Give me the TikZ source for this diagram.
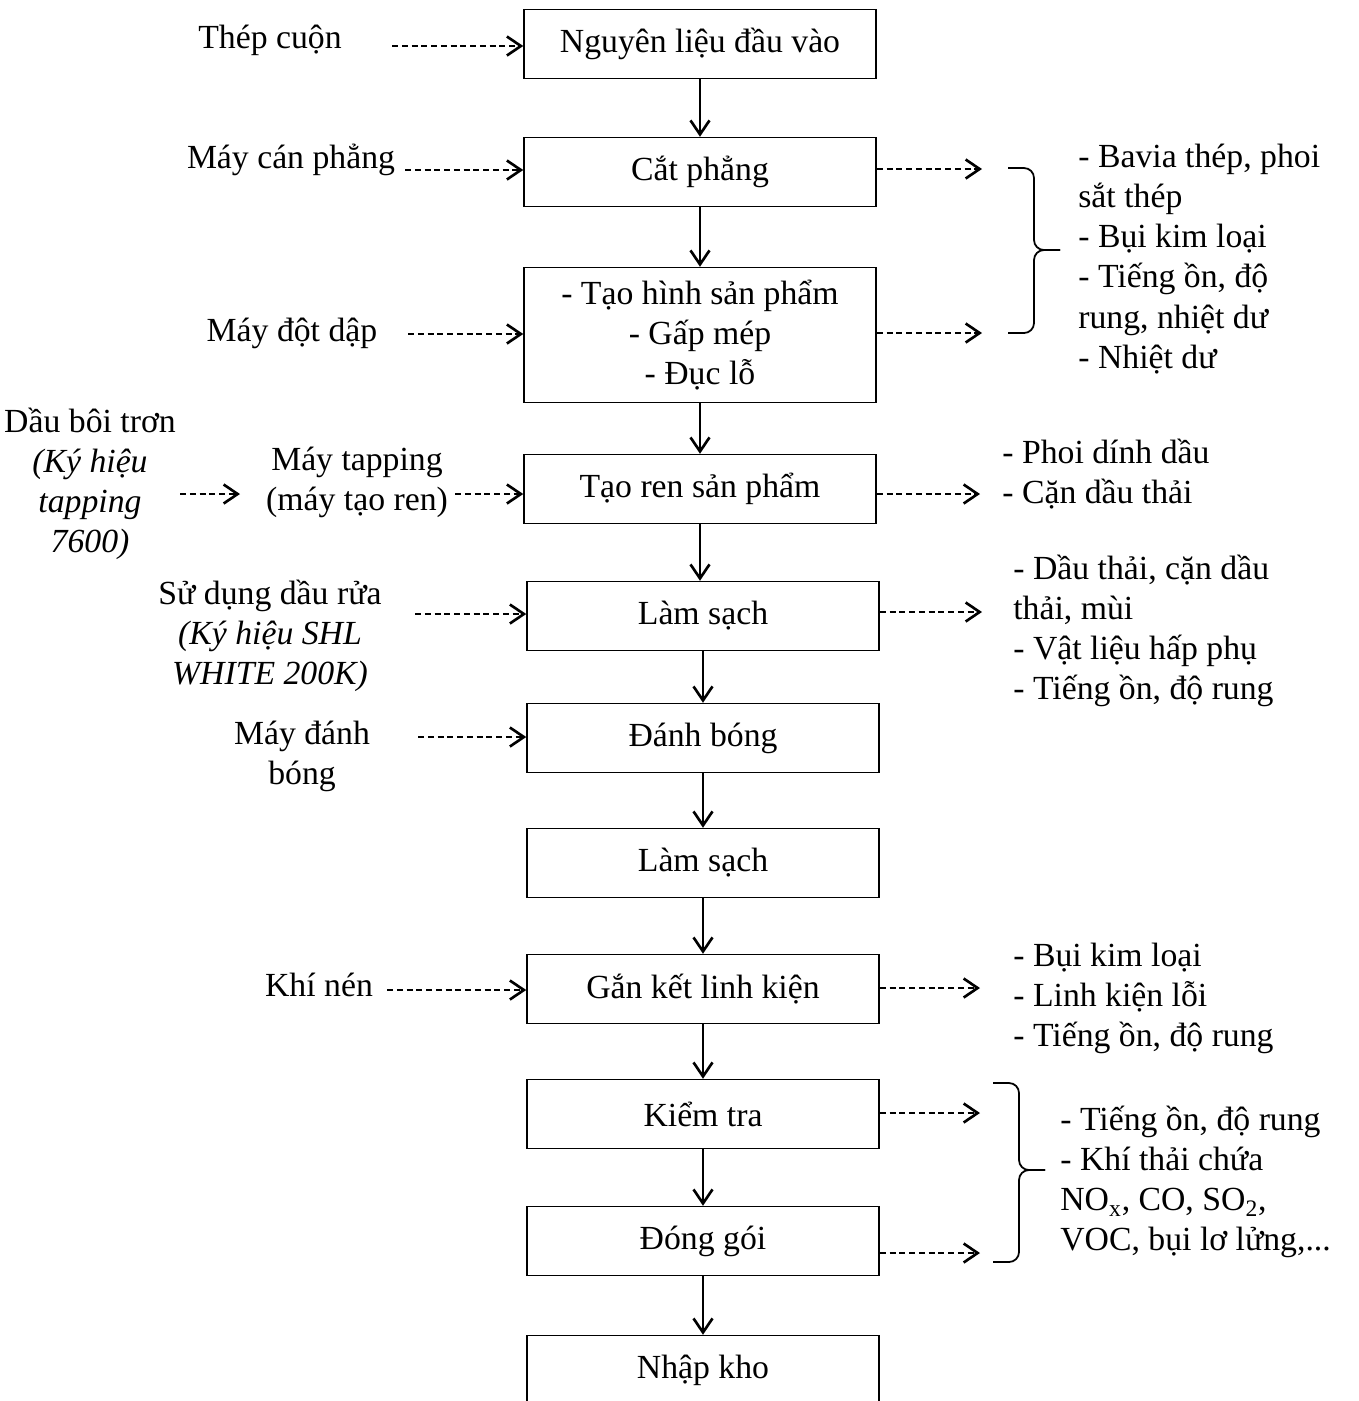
\documentclass[tikz,border=0pt]{standalone}
\usepackage{fontspec}
\setmainfont{Liberation Serif}
\usepackage{tikz}
\usetikzlibrary{arrows.meta,positioning,calc}
\newcommand\diafont{\fontsize{19.2pt}{22.8pt}\selectfont}
\tikzset{
  procbox/.style={rectangle,draw=black,line width=0.85pt,minimum width=70.4mm,
                  minimum height=13.8mm,inner sep=0pt,align=center},
  lbl/.style={align=center,inner sep=0pt},
  rlbl/.style={align=left,anchor=west,inner sep=0pt},
  fl/.style={-{Straight Barb[length=2.8mm,width=3.8mm,line width=1.5pt]},line width=1.5pt},
  dfl/.style={fl,dash pattern=on 1.2mm off 0.75mm},
  brc/.style={line width=1pt,rounded corners=2mm},
}

\begin{document}
\begin{tikzpicture}[x=0.2mm,y=-0.2mm,every node/.style={font=\diafont}]
  \useasboundingbox (0,0) rectangle (1359,1401);
  % main column
  \node[procbox] (nl) at (700,44) {Nguyên liệu đầu vào};
  \node[procbox] (cp) at (700,172) {Cắt phẳng};
  \node[procbox,minimum height=27mm] (th) at (700,335) {- Tạo hình sản phẩm\\- Gấp mép\\- Đục lỗ};
  \node[procbox] (tr) at (700,489) {Tạo ren sản phẩm};
  \node[procbox] (ls1) at (703,616) {Làm sạch};
  \node[procbox] (db) at (703,738) {Đánh bóng};
  \node[procbox] (ls2) at (703,863) {Làm sạch};
  \node[procbox] (gk) at (703,989) {Gắn kết linh kiện};
  \node[procbox] (kt) at (703,1114) {Kiểm tra};
  \node[procbox] (dg) at (703,1241) {Đóng gói};
  \node[procbox] (nk) at (703,1370) {Nhập kho};
  \foreach \a/\b in {nl/cp,cp/th,th/tr,tr/ls1,ls1/db,db/ls2,ls2/gk,gk/kt,kt/dg,dg/nk}
    \draw[fl] (\a.south) -- (\a.south |- \b.north);

  % inputs
  \node[lbl] (thep) at (270,40) {Thép cuộn};
  \node[lbl] (mcp) at (291,160) {Máy cán phẳng};
  \node[lbl] (mdd) at (292,333) {Máy đột dập};
  \node[lbl] (dbt) at (90,484) {Dầu bôi trơn\\\textit{(Ký hiệu}\\\textit{tapping}\\\textit{7600)}};
  \node[lbl] (mtap) at (357,482) {Máy tapping\\(máy tạo ren)};
  \node[lbl] (ddr) at (270,636) {Sử dụng dầu rửa\\\textit{(Ký hiệu SHL}\\\textit{WHITE 200K)}};
  \node[lbl] (mdb) at (302,756) {Máy đánh\\bóng};
  \node[lbl] (kn) at (319,985) {Khí nén};
  \coordinate (i1) at (392,46);
  \coordinate (i2) at (405,170);
  \coordinate (i3) at (408,334);
  \coordinate (i4) at (180,494);
  \coordinate (i4e) at (240,494);
  \coordinate (i5) at (455,494);
  \coordinate (i6) at (415,614);
  \coordinate (i7) at (418,737);
  \coordinate (i8) at (387,990);
  \draw[dfl] (i1) -- (i1 -| nl.west);
  \draw[dfl] (i2) -- (i2 -| cp.west);
  \draw[dfl] (i3) -- (i3 -| th.west);
  \draw[dfl] (i4) -- (i4e);
  \draw[dfl] (i5) -- (i5 -| tr.west);
  \draw[dfl] (i6) -- (i6 -| ls1.west);
  \draw[dfl] (i7) -- (i7 -| db.west);
  \draw[dfl] (i8) -- (i8 -| gk.west);

  % outputs
  \coordinate (o1) at (982,169);
  \coordinate (o2) at (982,333);
  \coordinate (o3) at (980,494);
  \coordinate (o4) at (982,612);
  \coordinate (o5) at (980,988);
  \coordinate (o6) at (980,1113);
  \coordinate (o7) at (980,1253);
  \draw[dfl] (o1 -| cp.east) -- (o1);
  \draw[dfl] (o2 -| th.east) -- (o2);
  \draw[dfl] (o3 -| tr.east) -- (o3);
  \draw[dfl] (o4 -| ls1.east) -- (o4);
  \draw[dfl] (o5 -| gk.east) -- (o5);
  \draw[dfl] (o6 -| kt.east) -- (o6);
  \draw[dfl] (o7 -| dg.east) -- (o7);
  % braces
  \draw[brc] (1008,168) -- (1034,168) -- (1034,250) -- (1060,250);
  \draw[brc] (1060,250) -- (1034,250) -- (1034,333) -- (1008,333);
  \draw[brc] (993,1083) -- (1019,1083) -- (1019,1170) -- (1045,1170);
  \draw[brc] (1045,1170) -- (1019,1170) -- (1019,1262) -- (993,1262);

  \node[rlbl] (wst1) at (1078,259) {- Bavia thép, phoi\\sắt thép\\- Bụi kim loại\\- Tiếng ồn, độ\\rung, nhiệt dư\\- Nhiệt dư};
  \node[rlbl] (wst2) at (1002,474) {- Phoi dính dầu\\- Cặn dầu thải};
  \node[rlbl] (wst3) at (1013,631) {- Dầu thải, cặn dầu\\thải, mùi\\- Vật liệu hấp phụ\\- Tiếng ồn, độ rung};
  \node[rlbl] (wst4) at (1013,998) {- Bụi kim loại\\- Linh kiện lỗi\\- Tiếng ồn, độ rung};
  \node[rlbl] (wst5) at (1060,1182) {- Tiếng ồn, độ rung\\- Khí thải chứa\\NO\textsubscript{x}, CO, SO\textsubscript{2},\\VOC, bụi lơ lửng,...};
\end{tikzpicture}
\end{document}
